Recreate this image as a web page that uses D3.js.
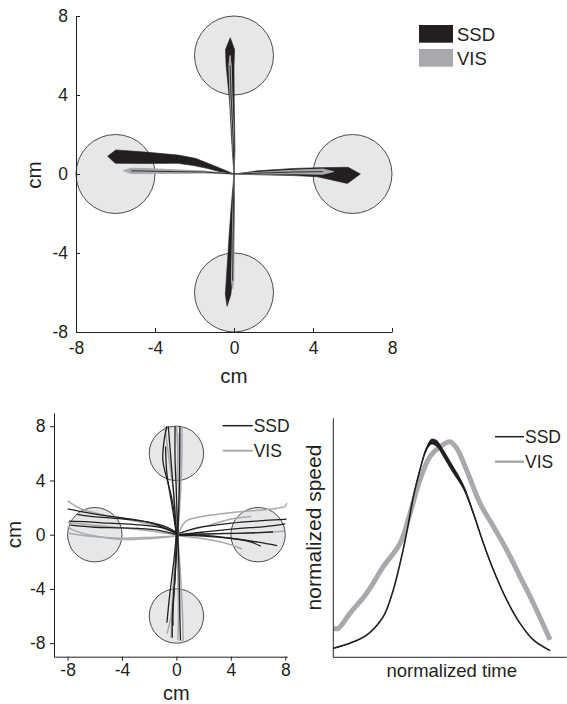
<!DOCTYPE html>
<html>
<head>
<meta charset="utf-8">
<script src="https://cdn.jsdelivr.net/npm/d3@7"></script>
<style>
  body { margin: 0; background: #fff; }
  svg { display: block; font-family: "Liberation Sans", Arial, Helvetica, sans-serif; }
  .axis path, .axis line { stroke: #231f20; stroke-width: 1; }
  .axis text { fill: #231f20; font-size: 17.5px; }
</style>
</head>
<body>
<svg id="fig" width="567" height="704"></svg>
<script>
// ---- data ----
const groups = ['SSD', 'VIS'];
const groupColors = { SSD: '#231f20', VIS: '#a7a9ac' };
const targets = [[0, 6], [-6, 0], [6, 0], [0, -6]];
const targetRadius = 2;
const cmTicks = [-8, -4, 0, 4, 8];

// mean trajectories (cm) with half-width spread, top panel
const meanSSD = [
  [[0, 0, 0], [-0.6, 0.17, 0.08], [-1.33, 0.41, 0.13], [-2.0, 0.61, 0.19], [-2.85, 0.75, 0.21], [-4.5, 0.82, 0.29], [-6.0, 0.88, 0.34], [-6.4, 0.9, 0]],
  [[0, 0, 0], [1.2, 0.06, 0.1], [3.0, 0.1, 0.18], [4.24, 0.09, 0.23], [5.76, -0.07, 0.41], [6.4, 0, 0]],
  [[0, 0, 0], [-0.02, 1.2, 0.07], [-0.11, 3.75, 0.12], [-0.2, 5.5, 0.2], [-0.2, 6.3, 0.23], [-0.19, 6.9, 0]],
  [[0, 0, 0], [-0.05, -1.5, 0.08], [-0.12, -3, 0.12], [-0.25, -5.5, 0.15], [-0.3, -6.1, 0.14], [-0.35, -6.7, 0]]
];
const meanVIS = [
  [[0, 0, 0], [-1.5, 0.1, 0.05], [-3, 0.12, 0.09], [-4.5, 0.15, 0.13], [-5.2, 0.16, 0.13], [-5.6, 0.17, 0]],
  [[0, 0, 0], [1.5, 0.05, 0.05], [3, 0.1, 0.09], [4.5, 0.12, 0.13], [5.05, 0.12, 0]],
  [[0, 0, 0], [-0.05, 2, 0.03], [-0.15, 4, 0.05], [-0.2, 5.5, 0.06], [-0.2, 6, 0]],
  [[0, 0, 0], [-0.03, -2, 0.03], [-0.05, -4, 0.05], [-0.07, -5.4, 0.06], [-0.07, -5.8, 0]]
];

// single trajectories (cm), bottom-left panel
const trialsSSD = [
  [[0.1, 0.1], [-0.8, 0.6], [-3, 1.1], [-5.5, 1.45], [-7, 1.7], [-8, 1.9]],
  [[0.1, 0.05], [-1, 0.5], [-3, 0.75], [-5, 0.85], [-6.5, 0.95], [-7.9, 1.0]],
  [[0, 0], [-1.5, 0.35], [-4, 0.5], [-6, 0.55], [-7.8, 0.7]],
  [[0, 0.1], [-2, 0.9], [-4.5, 1.2], [-6.3, 1.35], [-7.3, 1.5]],
  [[0.2, 0.1], [1.5, 0.5], [4, 0.85], [6.5, 1.05], [8.1, 1.15]],
  [[0.2, 0], [2, 0.2], [4.5, 0.45], [6.5, 0.6], [8, 0.8]],
  [[0.2, 0], [2, 0.05], [4.5, 0.1], [6, 0.15], [7.1, 0.2]],
  [[0.2, -0.05], [2, -0.1], [4.2, -0.3], [6, -0.55], [7.4, -0.8]],
  [[0.2, 0], [2, -0.05], [4, -0.25], [5.5, -0.55], [6.2, -0.85]],
  [[0, 0], [-0.3, 2.5], [-0.8, 4.5], [-1.0, 5.5], [-0.9, 7], [-0.7, 8.0]],
  [[0, 0], [-0.2, 3], [-0.4, 5.5], [-0.6, 8.0]],
  [[0.1, 0], [0, 3], [-0.1, 5.5], [-0.1, 8.0]],
  [[0.1, 0], [0.2, 3], [0.25, 6], [0.25, 8.0]],
  [[0, 0], [-0.3, 2], [-0.7, 4.5], [-0.8, 6.5]],
  [[0, 0], [-0.2, -2], [-0.5, -4.5], [-0.7, -6.5]],
  [[0, 0], [-0.1, -3], [-0.25, -5.5], [-0.25, -6.7]],
  [[0.1, 0], [-0.1, -3], [-0.3, -6], [-0.3, -7.6]],
  [[0.1, 0], [0.2, -3], [0.25, -6], [0.3, -7.8]]
];
const trialsVIS = [
  [[0, 0.1], [-1, 0.5], [-3, 1.0], [-5.5, 1.5], [-7, 1.9], [-8, 2.5]],
  [[0, -0.1], [-2, -0.3], [-4, -0.35], [-6, -0.1], [-7.5, 0.3], [-8, 0.6]],
  [[0, -0.1], [-2, -0.2], [-4.5, -0.25], [-6.5, -0.1], [-7.9, 0.1]],
  [[0, 0], [-2, 0.3], [-5, 0.6], [-8, 0.9]],
  [[0.2, 0.2], [0.7, 1], [1.7, 1.3], [4.2, 1.65], [7, 1.9], [8, 2.1], [8.1, 2.35]],
  [[0.2, 0], [2, 0.05], [4, 0.1], [6, 0.15], [7.9, 0.25]],
  [[0.2, -0.1], [2, -0.3], [3.5, -0.6], [4.8, -1.05]],
  [[0.2, 0.1], [2, 0.6], [4.2, 1.2], [5.5, 1.35]],
  [[0, 0], [0, 3], [0.1, 6], [0, 8.0]],
  [[0.1, 0], [0.3, 3], [0.4, 6], [0.4, 8.0]],
  [[0, 0], [-0.2, 3], [-0.6, 6], [-0.85, 8.0]],
  [[0.1, 0], [0.2, 3.5], [0.2, 7.5]],
  [[0.1, 0], [0.3, -3], [0.45, -6], [0.5, -8]],
  [[0, 0], [-0.1, -3], [-0.3, -6], [-0.4, -7.6]],
  [[0, 0], [0.1, -3], [0.15, -6], [0.1, -7.8]],
  [[0.1, 0], [-0.2, -3], [-0.4, -6], [-0.7, -7.3]]
];

// speed profiles, bottom-right panel
const ssdTime = [0, 0.071, 0.143, 0.214, 0.257, 0.286, 0.314, 0.343, 0.371, 0.4, 0.421, 0.443, 0.471, 0.514, 0.557, 0.6, 0.643, 0.686, 0.743, 0.8, 0.857, 0.929];
const ssdSpeed = [0.038, 0.059, 0.093, 0.17, 0.282, 0.393, 0.519, 0.672, 0.784, 0.874, 0.902, 0.895, 0.854, 0.784, 0.714, 0.603, 0.477, 0.365, 0.24, 0.142, 0.073, 0.028];
const ssdSem = [0.002, 0.002, 0.002, 0.003, 0.003, 0.003, 0.004, 0.005, 0.007, 0.01, 0.012, 0.014, 0.016, 0.016, 0.012, 0.008, 0.005, 0.004, 0.003, 0.002, 0.002, 0.002];
const visTime = [0, 0.021, 0.071, 0.143, 0.214, 0.286, 0.329, 0.371, 0.414, 0.457, 0.5, 0.529, 0.571, 0.629, 0.686, 0.743, 0.8, 0.857, 0.929];
const visSpeed = [0.121, 0.121, 0.184, 0.268, 0.379, 0.477, 0.603, 0.742, 0.84, 0.881, 0.902, 0.874, 0.784, 0.644, 0.547, 0.449, 0.338, 0.226, 0.073];

const svg = d3.select('#fig');
const ink = '#231f20';
const targetFill = '#e6e7e8';
const plainTick = d => String(d);

// ---- top panel ----
const x1 = d3.scaleLinear().domain([-8, 8]).range([76, 392]);
const y1 = d3.scaleLinear().domain([-8, 8]).range([332, 16]);
const topPanel = svg.append('g');

topPanel.selectAll('circle.target').data(targets).join('circle')
  .attr('cx', d => x1(d[0])).attr('cy', d => y1(d[1]))
  .attr('r', x1(targetRadius) - x1(0))
  .attr('fill', targetFill).attr('stroke', ink).attr('stroke-width', 0.8);

// build a band polygon from a centerline with half-widths
function band(pts) {
  const upper = [], lower = [];
  pts.forEach((p, i) => {
    const a = pts[Math.max(i - 1, 0)], b = pts[Math.min(i + 1, pts.length - 1)];
    let dx = b[0] - a[0], dy = b[1] - a[1];
    const len = Math.hypot(dx, dy) || 1;
    const nx = -dy / len, ny = dx / len;
    upper.push([p[0] + nx * p[2], p[1] + ny * p[2]]);
    lower.push([p[0] - nx * p[2], p[1] - ny * p[2]]);
  });
  return upper.concat(lower.reverse());
}
const polyLine = d3.line().x(d => x1(d[0])).y(d => y1(d[1])).curve(d3.curveLinearClosed);
const midLine = d3.line().x(d => x1(d[0])).y(d => y1(d[1]));

topPanel.selectAll('path.ssd').data(meanSSD).join('path')
  .attr('d', d => polyLine(band(d)))
  .attr('fill', groupColors.SSD).attr('stroke', groupColors.SSD).attr('stroke-width', 0.6);
topPanel.selectAll('path.vis').data(meanVIS).join('path')
  .attr('d', d => polyLine(band(d)))
  .attr('fill', groupColors.VIS).attr('stroke', groupColors.VIS).attr('stroke-width', 1);
topPanel.selectAll('path.vismid').data(meanVIS).join('path')
  .attr('d', d => midLine(d.slice(0, -1)))
  .attr('fill', 'none').attr('stroke', ink).attr('stroke-width', 0.9);

topPanel.append('g').attr('class', 'axis')
  .attr('transform', `translate(0,${y1(-8)})`)
  .call(d3.axisBottom(x1).tickValues(cmTicks).tickSizeInner(-4).tickSizeOuter(0).tickPadding(10).tickFormat(plainTick));
topPanel.append('g').attr('class', 'axis')
  .attr('transform', `translate(${x1(-8)},0)`)
  .call(d3.axisLeft(y1).tickValues(cmTicks).tickSizeInner(-4).tickSizeOuter(0).tickPadding(8).tickFormat(plainTick));

topPanel.append('text').attr('x', x1(0)).attr('y', 382.5)
  .attr('text-anchor', 'middle').attr('font-size', 20.5).attr('fill', ink).text('cm');
topPanel.append('text').attr('transform', `translate(40.5,175) rotate(-90)`)
  .attr('text-anchor', 'middle').attr('font-size', 20.5).attr('fill', ink).text('cm');

const legTop = topPanel.selectAll('g.leg').data(groups).join('g')
  .attr('transform', (d, i) => `translate(419,${25 + i * 24})`);
legTop.append('rect').attr('width', 34).attr('height', 17.7).attr('fill', d => groupColors[d]);
legTop.append('text').attr('x', 38).attr('y', 16).attr('font-size', 18.5).attr('fill', ink).text(d => d);

// ---- bottom-left panel ----
const x2 = d3.scaleLinear().domain([-9, 8.15]).range([54, 287.3]);
const y2 = d3.scaleLinear().domain([-9, 9]).range([656.7, 412.7]);
const bl = svg.append('g');

bl.selectAll('circle').data(targets).join('circle')
  .attr('cx', d => x2(d[0])).attr('cy', d => y2(d[1]))
  .attr('r', x2(targetRadius) - x2(0))
  .attr('fill', targetFill).attr('stroke', ink).attr('stroke-width', 0.8);

const trialLine = d3.line().x(d => x2(d[0])).y(d => y2(d[1])).curve(d3.curveCatmullRom);
bl.selectAll('path.vis').data(trialsVIS).join('path').attr('class', 'vis')
  .attr('d', trialLine).attr('fill', 'none')
  .attr('stroke', groupColors.VIS).attr('stroke-width', 1.5);
bl.selectAll('path.ssd').data(trialsSSD).join('path').attr('class', 'ssd')
  .attr('d', trialLine).attr('fill', 'none')
  .attr('stroke', groupColors.SSD).attr('stroke-width', 1.3);

bl.append('g').attr('class', 'axis')
  .attr('transform', `translate(0,${y2(-9)})`)
  .call(d3.axisBottom(x2).tickValues(cmTicks).tickSizeInner(4).tickSizeOuter(0).tickPadding(3).tickFormat(plainTick));
bl.append('g').attr('class', 'axis')
  .attr('transform', `translate(${x2(-9)},0)`)
  .call(d3.axisLeft(y2).tickValues(cmTicks).tickSizeInner(4).tickSizeOuter(0).tickPadding(4.5).tickFormat(plainTick));

bl.append('text').attr('x', x2(0)).attr('y', 700)
  .attr('text-anchor', 'middle').attr('font-size', 20).attr('fill', ink).text('cm');
bl.append('text').attr('transform', `translate(21,${y2(0)}) rotate(-90)`)
  .attr('text-anchor', 'middle').attr('font-size', 20.5).attr('fill', ink).text('cm');

const legBL = bl.selectAll('g.leg').data(groups).join('g')
  .attr('transform', (d, i) => `translate(222.7,${425.7 + i * 25})`);
legBL.append('line').attr('x2', 30).attr('stroke', d => groupColors[d]).attr('stroke-width', d => d === 'SSD' ? 1.5 : 2);
legBL.append('text').attr('x', 31).attr('y', 6.2).attr('font-size', 17.5).attr('fill', ink).text(d => d);

// ---- bottom-right panel ----
const x3 = d3.scaleLinear().domain([0, 1]).range([333.3, 566.7]);
const y3 = d3.scaleLinear().domain([0, 1]).range([657.3, 418.3]);
const br = svg.append('g');

const visProfile = visTime.map((t, i) => [t, visSpeed[i]]);
const ssdProfile = ssdTime.map((t, i) => [t, ssdSpeed[i], ssdSem[i]]);
const profLine = d3.line().x(d => x3(d[0])).y(d => y3(d[1])).curve(d3.curveCatmullRom);
const semArea = d3.area().x(d => x3(d[0])).y0(d => y3(d[1] - d[2])).y1(d => y3(d[1] + d[2])).curve(d3.curveCatmullRom);

br.append('path').datum(visProfile).attr('d', profLine)
  .attr('fill', 'none').attr('stroke', groupColors.VIS).attr('stroke-width', 5).attr('stroke-linejoin', 'round');
br.append('path').datum(ssdProfile).attr('d', semArea).attr('fill', groupColors.SSD);
br.append('path').datum(ssdProfile).attr('d', profLine)
  .attr('fill', 'none').attr('stroke', groupColors.SSD).attr('stroke-width', 1.6);

br.append('path').attr('d', `M${x3(0)},${y3(1)}V${y3(0)}H${x3(1)}`)
  .attr('fill', 'none').attr('stroke', ink).attr('stroke-width', 1);

br.append('text').attr('x', 451.7).attr('y', 676.7)
  .attr('text-anchor', 'middle').attr('font-size', 18.5).attr('fill', ink).text('normalized time');
br.append('text').attr('transform', `translate(320.5,527.5) rotate(-90)`)
  .attr('text-anchor', 'middle').attr('font-size', 21).attr('fill', ink).text('normalized speed');

const legBR = br.selectAll('g.leg').data(groups).join('g')
  .attr('transform', (d, i) => `translate(495,${436.7 + i * 25})`);
legBR.append('line').attr('x2', 29).attr('stroke', d => groupColors[d]).attr('stroke-width', d => d === 'SSD' ? 1.5 : 2.5);
legBR.append('text').attr('x', 30).attr('y', 6.2).attr('font-size', 17.5).attr('fill', ink).text(d => d);
</script>
</body>
</html>
